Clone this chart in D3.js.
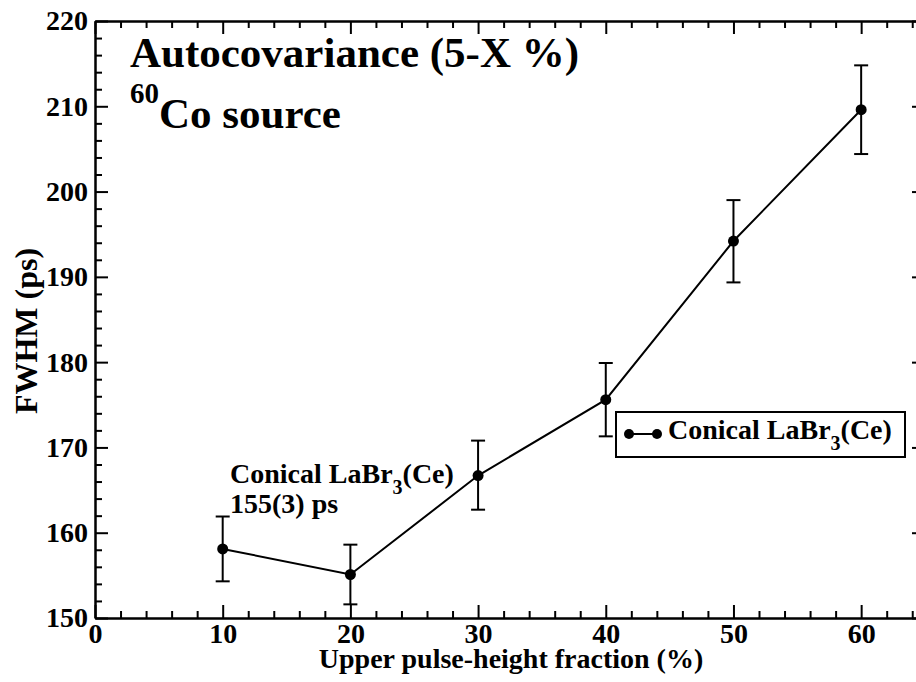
<!DOCTYPE html>
<html>
<head>
<meta charset="utf-8">
<script src="https://cdn.jsdelivr.net/npm/d3@7"></script>
</head>
<body style="margin:0; background:#fff">
<div id="chart"></div>
<script>
var fractions = [10, 20, 30, 40, 50, 60];
var fwhm = [158.1, 155.1, 166.7, 175.6, 194.2, 209.6];
var errLow = [154.3, 151.6, 162.7, 171.3, 189.35, 204.4];
var errHigh = [161.9, 158.6, 170.8, 179.9, 199.0, 214.8];
var xMajorTicks = [0, 10, 20, 30, 40, 50, 60];
var yMajorTicks = [150, 160, 170, 180, 190, 200, 210, 220];
var seriesName = "Conical LaBr";

var W = 916, H = 682;
var margin = {top: 21, left: 95, bottom: 64};
var plotW = 830, plotH = H - margin.top - margin.bottom;
var serif = "'Liberation Serif'";

var x = d3.scaleLinear().domain([0, 65]).range([margin.left, margin.left + plotW]);
var y = d3.scaleLinear().domain([150, 220]).range([margin.top + plotH, margin.top]);

var svg = d3.select("#chart").append("svg")
  .attr("width", W)
  .attr("height", H);

var xMinor = d3.range(0, 66, 2).filter(function (d) { return d % 10 != 0; });
var yMinor = d3.range(150, 221, 2).filter(function (d) { return d % 10 != 0; });

function styleAxis(g) {
  g.selectAll("path, line").attr("stroke", "#000").attr("stroke-width", 2);
  g.selectAll("text").attr("fill", "#000")
    .style("font-family", serif).style("font-weight", "bold").style("font-size", "28px");
}

// bottom
svg.append("g")
  .attr("transform", "translate(0," + y(150) + ")")
  .call(d3.axisBottom(x).tickValues(xMajorTicks).tickSize(-13).tickSizeOuter(0).tickPadding(5))
  .call(styleAxis);
svg.append("g")
  .attr("transform", "translate(0," + y(150) + ")")
  .call(d3.axisBottom(x).tickValues(xMinor).tickSize(-7).tickSizeOuter(0).tickFormat(""))
  .call(styleAxis);
// top
svg.append("g")
  .attr("transform", "translate(0," + y(220) + ")")
  .call(d3.axisTop(x).tickValues(xMajorTicks).tickSize(-13).tickSizeOuter(0).tickFormat(""))
  .call(styleAxis);
svg.append("g")
  .attr("transform", "translate(0," + y(220) + ")")
  .call(d3.axisTop(x).tickValues(xMinor).tickSize(-7).tickSizeOuter(0).tickFormat(""))
  .call(styleAxis);
// left
svg.append("g")
  .attr("transform", "translate(" + x(0) + ",0)")
  .call(d3.axisLeft(y).tickValues(yMajorTicks).tickSize(-13).tickSizeOuter(0).tickPadding(7))
  .call(styleAxis);
svg.append("g")
  .attr("transform", "translate(" + x(0) + ",0)")
  .call(d3.axisLeft(y).tickValues(yMinor).tickSize(-7).tickSizeOuter(0).tickFormat(""))
  .call(styleAxis);
// right
svg.append("g")
  .attr("transform", "translate(" + x(65) + ",0)")
  .call(d3.axisRight(y).tickValues(yMajorTicks).tickSize(-13).tickSizeOuter(0).tickFormat(""))
  .call(styleAxis);
svg.append("g")
  .attr("transform", "translate(" + x(65) + ",0)")
  .call(d3.axisRight(y).tickValues(yMinor).tickSize(-7).tickSizeOuter(0).tickFormat(""))
  .call(styleAxis);

// error bars
var pts = fractions.map(function (f, i) {
  return {x: f, y: fwhm[i], lo: errLow[i], hi: errHigh[i]};
});
var eb = svg.append("g").attr("stroke", "#000").attr("stroke-width", 2);
eb.selectAll(".ev").data(pts).enter().append("line")
  .attr("x1", function (d) { return x(d.x); })
  .attr("x2", function (d) { return x(d.x); })
  .attr("y1", function (d) { return y(d.lo); })
  .attr("y2", function (d) { return y(d.hi); });
eb.selectAll(".ct").data(pts).enter().append("line")
  .attr("x1", function (d) { return x(d.x) - 7; })
  .attr("x2", function (d) { return x(d.x) + 7; })
  .attr("y1", function (d) { return y(d.hi); })
  .attr("y2", function (d) { return y(d.hi); });
eb.selectAll(".cb").data(pts).enter().append("line")
  .attr("x1", function (d) { return x(d.x) - 7; })
  .attr("x2", function (d) { return x(d.x) + 7; })
  .attr("y1", function (d) { return y(d.lo); })
  .attr("y2", function (d) { return y(d.lo); });

svg.append("path")
  .datum(pts)
  .attr("fill", "none")
  .attr("stroke", "#000")
  .attr("stroke-width", 2)
  .attr("d", d3.line().x(function (d) { return x(d.x); }).y(function (d) { return y(d.y); }));

svg.selectAll(".dot").data(pts).enter().append("circle")
  .attr("cx", function (d) { return x(d.x); })
  .attr("cy", function (d) { return y(d.y); })
  .attr("r", 5.5)
  .attr("fill", "#000");

function label(xp, yp, size) {
  return svg.append("text")
    .attr("x", xp).attr("y", yp)
    .style("font-family", serif)
    .style("font-weight", "bold")
    .style("font-size", size + "px");
}

// axis titles
label(511, 668, 28).attr("text-anchor", "middle").text("Upper pulse-height fraction (%)");
label(0, 0, 32).attr("text-anchor", "middle")
  .attr("transform", "translate(37,331) rotate(-90)")
  .text("FWHM (ps)");

// title
label(130, 67, 43).text("Autocovariance (5-X %)");
var t2 = label(130, 128, 43);
t2.append("tspan").attr("dy", -25).style("font-size", "29px").text("60");
t2.append("tspan").attr("dy", 25).text("Co source");

// annotation
var a1 = label(230, 483, 28);
a1.append("tspan").text(seriesName);
a1.append("tspan").attr("dy", 11).style("font-size", "20px").text("3");
a1.append("tspan").attr("dy", -11).text("(Ce)");
label(230, 513, 28).text("155(3) ps");

// legend
var lg = svg.append("g");
lg.append("rect")
  .attr("x", 616).attr("y", 412).attr("width", 289).attr("height", 45)
  .attr("fill", "#fff").attr("stroke", "#000").attr("stroke-width", 2);
lg.append("line").attr("x1", 629).attr("x2", 657).attr("y1", 434).attr("y2", 434)
  .attr("stroke", "#000").attr("stroke-width", 2);
lg.selectAll("circle").data([629, 657]).enter().append("circle")
  .attr("cx", function (d) { return d; }).attr("cy", 434).attr("r", 5).attr("fill", "#000");
var lt = label(668, 439, 28);
lt.append("tspan").text(seriesName);
lt.append("tspan").attr("dy", 11).style("font-size", "20px").text("3");
lt.append("tspan").attr("dy", -11).text("(Ce)");
</script>
</body>
</html>
